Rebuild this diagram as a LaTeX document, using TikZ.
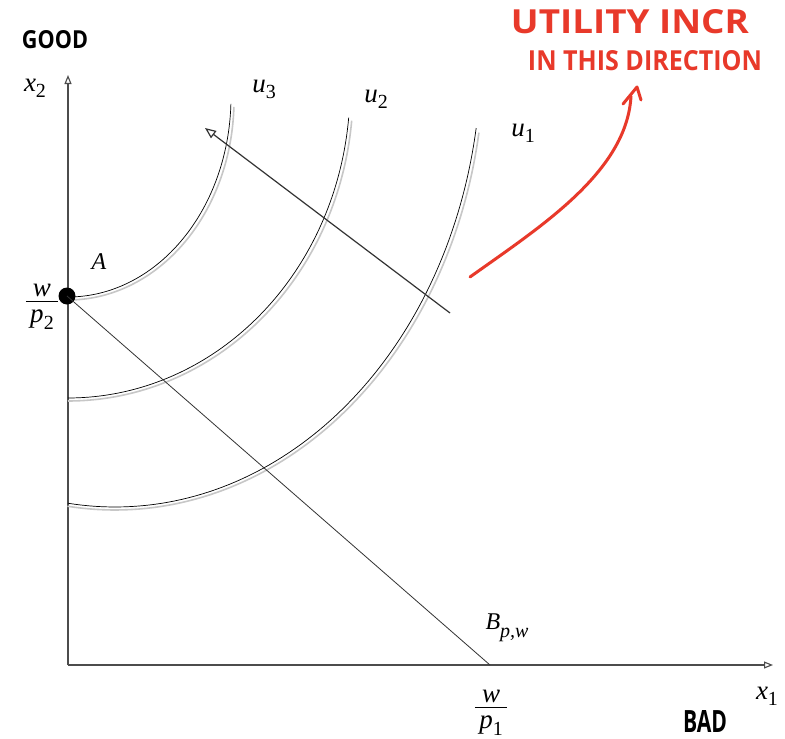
\documentclass[tikz,border=0pt]{standalone}
\usepackage{fontspec}
\setmainfont{Liberation Serif}
\newfontfamily\handfont{Open Sans}
\usetikzlibrary{arrows.meta}
\definecolor{axisgray}{gray}{0.3}
\definecolor{shadowgray}{gray}{0.78}
\definecolor{inkred}{HTML}{E8392A}
\newcommand\subsz{\fontsize{20}{20}\selectfont}
\newcommand\sublab[2]{\textit{#1}\raisebox{-0.5ex}{\subsz #2}}
\newcommand\fraclab[2]{\begin{tabular}{@{\,}c@{\,}}\textit{#1}\\[-4pt]\hline\rule{0pt}{21pt}\textit{#2}\end{tabular}}
\begin{document}
\begin{tikzpicture}[x=1pt,y=-1pt,
  lab/.style={font=\fontsize{27}{29}\selectfont, inner sep=0pt},
  hand/.style={font=\handfont\bfseries, inner sep=0pt},
  axisline/.style={axisgray, line width=1.1pt, -{Triangle[open, length=9pt, width=7pt]}},
  ucurve/.style={black, line width=0.7pt},
  ushadow/.style={shadowgray, line width=1.6pt},
  budget/.style={black!80, line width=0.8pt},
  dirarrow/.style={black!80, line width=1.2pt, -{Triangle[open, length=11pt, width=9pt]}},
  redink/.style={inkred, line width=3pt, line cap=round, line join=round}]
\useasboundingbox (0,0) rectangle (785,739);
\fill[white] (0,0) rectangle (785,739);

% axes
\coordinate (O) at (68,665);
\coordinate (ytop) at (68,75);
\coordinate (xend) at (773,665);
\draw[axisline] (O) -- (ytop);
\draw[axisline] (O) -- (xend);

% indifference curves (shadow then line)
\draw[ushadow] plot[domain=9.5:97.4, samples=80] ({115+369*cos(\x)}, {58+452*sin(\x)});
\draw[ucurve] plot[domain=9.3:97.4, samples=80] ({115+366*cos(\x)}, {55+452*sin(\x)});
\draw[ushadow] plot[domain=5.5:90, samples=80] ({68+285*cos(\x)}, {91+310*sin(\x)});
\draw[ucurve] plot[domain=5.5:90, samples=80] ({68+282*cos(\x)}, {88+310*sin(\x)});
\draw[ushadow] plot[domain=2:90, samples=80] ({68+166*cos(\x)}, {100+200*sin(\x)});
\draw[ucurve] plot[domain=2:90, samples=80] ({68+163*cos(\x)}, {97+200*sin(\x)});

% budget line
\node[circle, fill=black, minimum size=17pt, inner sep=0pt] (A) at (67,296) {};
\coordinate (B1) at (490,665);
\draw[budget] (A.center) -- (B1);

% direction arrow
\coordinate (arrS) at (450,313);
\coordinate (arrE) at (205,128);
\draw[dirarrow] (arrS) -- (arrE);

% labels
\node[lab] (x2) at (35,88) {\sublab{x}{2}};
\node[lab] (x1) at (767,696) {\sublab{x}{1}};
\node[lab] (u3) at (264,89) {\sublab{u}{3}};
\node[lab] (u2) at (376,99) {\sublab{u}{2}};
\node[lab] (u1) at (523,133) {\sublab{u}{1}};
\node[lab, font=\fontsize{24}{26}\selectfont] (Alab) at (99,262) {\textit{A}};
\node[lab] (wp2) at (42,304) {\fraclab{w}{p\raisebox{-0.5ex}{\subsz\upshape 2}}};
\node[lab] (wp1) at (491,710) {\fraclab{w}{p\raisebox{-0.5ex}{\subsz\upshape 1}}};
\node[lab, font=\fontsize{24}{26}\selectfont] (Bpw) at (507,628) {\textit{B}\raisebox{-0.7ex}{\subsz\textit{p,w}}};

% handwritten notes
\node[hand] (good) at (55,40) {\resizebox{66pt}{18pt}{GOOD}};
\node[hand] (bad) at (705,721) {\resizebox{44pt}{22pt}{BAD}};
\node[hand, text=inkred] (note1) at (630,22) {\resizebox{238pt}{24pt}{UTILITY INCR}};
\node[hand, text=inkred] (note2) at (645,61) {\resizebox{234pt}{20pt}{IN THIS DIRECTION}};

% red hand-drawn arrow
\coordinate (rs) at (470,277);
\coordinate (re) at (631,96);
\draw[redink] (rs) .. controls (540,227) and (627,172) .. (re);
\draw[redink] (623,104) -- (637,87) -- (641,100);
\end{tikzpicture}
\end{document}
